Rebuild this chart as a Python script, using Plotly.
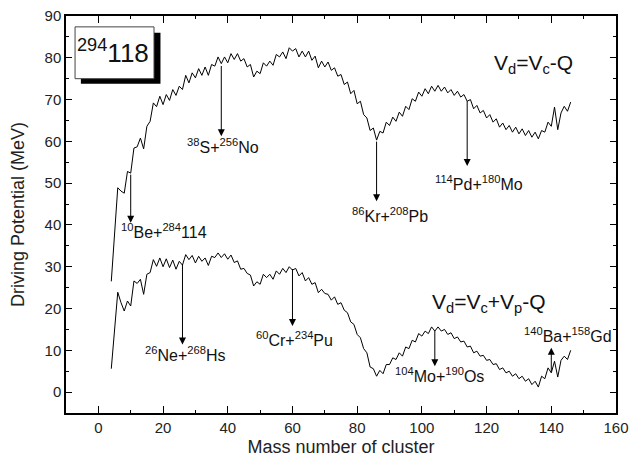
import plotly.graph_objects as go

# ---------------- data ----------------
mass = list(range(4, 147))

vd_coulomb = [
    26.5, 37.5, 48.9, 48.1, 47.6, 52.8, 52.4, 58.4, 58.7, 60.8,   # 4-13
    58.2, 63.6, 64.8, 69.2, 68.3, 70.8, 68.8, 71.2, 69.8, 72.4,   # 14-23
    71.0, 73.2, 72.4, 75.8, 74.0, 76.4, 75.2, 77.4, 75.8, 77.8,   # 24-33
    75.8, 78.4, 78.0, 80.2, 78.6, 80.2, 78.8, 81.0, 79.6, 81.0,   # 34-43
    79.2, 79.8, 77.8, 78.4, 75.4, 76.8, 76.2, 78.8, 78.0, 79.2,   # 44-53
    78.2, 80.8, 80.2, 81.4, 79.8, 82.4, 81.6, 82.2, 80.2, 81.6,   # 54-63
    80.2, 81.6, 79.4, 80.4, 77.6, 79.2, 77.8, 79.0, 77.0, 77.6,   # 64-73
    75.6, 76.0, 73.6, 74.2, 71.4, 72.2, 69.0, 69.6, 66.4, 65.6,   # 74-83
    62.6, 63.2, 60.3, 62.4, 62.0, 64.6, 63.8, 65.8, 64.8, 67.0,   # 84-93
    66.0, 68.4, 67.6, 70.2, 69.6, 71.8, 70.8, 72.6, 71.4, 73.2,   # 94-103
    72.0, 73.4, 72.0, 73.0, 71.6, 72.4, 71.0, 72.0, 70.6, 71.2,   # 104-113
    69.6, 70.0, 67.8, 68.6, 66.8, 67.4, 65.6, 66.4, 64.6, 65.4,   # 114-123
    63.4, 64.4, 62.8, 63.8, 62.2, 63.4, 61.8, 63.0, 61.4, 62.6,   # 124-133
    61.0, 62.2, 60.6, 62.6, 62.2, 64.6, 63.6, 68.2, 62.8, 66.8,   # 134-143
    68.4, 67.2, 69.4,                                             # 144-146
]

vd_proximity = [
    5.6, 15.0, 23.9, 21.4, 19.4, 21.8, 20.6, 26.6, 26.0, 27.0,    # 4-13
    23.4, 28.2, 28.6, 31.7, 30.1, 32.1, 30.0, 31.9, 29.8, 31.6,   # 14-23
    29.4, 31.3, 30.4, 32.9, 31.7, 32.7, 30.9, 32.5, 31.3, 32.1,   # 24-33
    30.3, 32.5, 32.2, 33.3, 32.2, 33.1, 31.8, 32.8, 31.0, 31.4,   # 34-43
    29.4, 29.6, 28.4, 28.0, 25.4, 26.4, 25.8, 28.2, 27.4, 28.2,   # 44-53
    27.0, 29.0, 28.2, 29.6, 28.6, 30.0, 29.2, 29.6, 27.8, 28.6,   # 54-63
    26.6, 27.4, 25.8, 26.2, 23.8, 24.6, 23.6, 23.4, 22.0, 22.8,   # 64-73
    21.0, 21.4, 19.6, 19.0, 16.8, 16.2, 13.8, 13.0, 10.4, 9.4,    # 74-83
    6.0, 5.6, 3.8, 5.2, 4.4, 6.6, 6.6, 8.2, 7.8, 9.4,             # 84-93
    8.6, 10.8, 10.4, 12.4, 12.0, 14.0, 13.4, 14.6, 14.0, 15.6,    # 94-103
    14.6, 15.6, 14.6, 15.0, 13.8, 14.2, 12.8, 13.2, 12.0, 12.2,   # 104-113
    10.8, 11.0, 9.4, 9.8, 8.6, 8.8, 7.6, 7.8, 6.6, 6.8,           # 114-123
    5.4, 5.8, 4.6, 5.0, 3.8, 4.4, 3.2, 3.8, 2.6, 3.2,             # 124-133
    1.8, 2.6, 1.2, 3.8, 3.2, 5.8, 4.6, 7.4, 3.6, 7.6,             # 134-143
    8.6, 7.8, 10.0,                                               # 144-146
]

# arrows: cluster mass, tail (on curve) and head values
arrow_mass = [10, 38, 86, 114, 26, 60, 104, 140]
arrow_tail = [52.4, 78.4, 60.3, 70.0, 31.0, 29.8, 15.0, 4.6]
arrow_head = [40.5, 61.2, 45.7, 54.1, 11.4, 15.8, 6.2, 10.6]

channel_labels = [
    "<sup>10</sup>Be+<sup>284</sup>114",
    "<sup>38</sup>S+<sup>256</sup>No",
    "<sup>86</sup>Kr+<sup>208</sup>Pb",
    "<sup>114</sup>Pd+<sup>180</sup>Mo",
    "<sup>26</sup>Ne+<sup>268</sup>Hs",
    "<sup>60</sup>Cr+<sup>234</sup>Pu",
    "<sup>104</sup>Mo+<sup>190</sup>Os",
    "<sup>140</sup>Ba+<sup>158</sup>Gd",
]
label_x = [20.4, 38.6, 90.0, 117.6, 26.7, 60.7, 105.3, 145.3]
label_y = [38.6, 59.0, 42.4, 50.0, 9.0, 12.6, 4.2, 13.6]

x_ticks = [0, 20, 40, 60, 80, 100, 120, 140, 160]
y_ticks = [0, 10, 20, 30, 40, 50, 60, 70, 80, 90]

FONT = "Liberation Sans, Arial, sans-serif"

fig = go.Figure()
fig.add_trace(go.Scatter(x=mass, y=vd_coulomb, mode="lines",
                         line=dict(color="black", width=1), showlegend=False))
fig.add_trace(go.Scatter(x=mass, y=vd_proximity, mode="lines",
                         line=dict(color="black", width=1), showlegend=False))

annotations = []
for m, t, h in zip(arrow_mass, arrow_tail, arrow_head):
    annotations.append(dict(x=m, y=h, ax=m, ay=t, xref="x", yref="y",
                            axref="x", ayref="y", text="", showarrow=True,
                            arrowhead=2, arrowsize=1.4, arrowwidth=1,
                            arrowcolor="black", standoff=0, startstandoff=0))
for txt, lx, ly in zip(channel_labels, label_x, label_y):
    annotations.append(dict(x=lx, y=ly, xref="x", yref="y", text=txt,
                            showarrow=False, xanchor="center", yanchor="middle",
                            font=dict(family=FONT, size=16, color="#111")))

annotations.append(dict(x=134.6, y=78.5, xref="x", yref="y",
                        text="V<sub>d</sub>=V<sub>c</sub>-Q", showarrow=False,
                        font=dict(family=FONT, size=21, color="#111")))
annotations.append(dict(x=120.8, y=21.3, xref="x", yref="y",
                        text="V<sub>d</sub>=V<sub>c</sub>+V<sub>p</sub>-Q", showarrow=False,
                        font=dict(family=FONT, size=21, color="#111")))
annotations.append(dict(x=4.6, y=81.6, xref="x", yref="y",
                        text="<sup>294</sup>118", showarrow=False,
                        font=dict(family=FONT, size=26, color="#111")))

shapes = [
    dict(type="rect", xref="x", yref="y", x0=-5.4, x1=19.2, y0=73.8, y1=86.0,
         fillcolor="black", line=dict(width=0), layer="above"),
    dict(type="rect", xref="x", yref="y", x0=-7.2, x1=17.2, y0=75.0, y1=87.4,
         fillcolor="white", line=dict(color="#444", width=1), layer="above"),
]

fig.update_layout(
    width=630, height=465,
    margin=dict(l=66, r=14, t=16, b=52),
    paper_bgcolor="white", plot_bgcolor="white",
    font=dict(family=FONT, size=15, color="#222"),
    annotations=annotations, shapes=shapes,
)
fig.update_xaxes(range=[-10, 160], tickvals=x_ticks, ticks="inside", ticklen=7,
                 tickwidth=1, tickcolor="black", showline=True, linecolor="black",
                 linewidth=1.5, mirror="allticks", showgrid=False, zeroline=False,
                 automargin=False,
                 minor=dict(dtick=10, ticks="inside", ticklen=3, tickcolor="black"),
                 title=dict(text="Mass number of cluster", font=dict(size=18), standoff=6),
                 tickfont=dict(size=15))
fig.update_yaxes(range=[-5, 90], tickvals=y_ticks, ticks="inside", ticklen=6,
                 tickwidth=1, tickcolor="black", showline=True, linecolor="black",
                 linewidth=1.5, mirror="allticks", showgrid=False, zeroline=False,
                 automargin=False,
                 minor=dict(dtick=5, ticks="inside", ticklen=3, tickcolor="black"),
                 title=dict(text="Driving Potential (MeV)", font=dict(size=18), standoff=15),
                 tickfont=dict(size=15))

# remove the default page margin so the 630x465 figure fills the window exactly
fig.write_html("out.html",
               config={"displayModeBar": False},
               post_script="document.body.style.margin='0px';"
                           "document.body.style.overflow='hidden';")
